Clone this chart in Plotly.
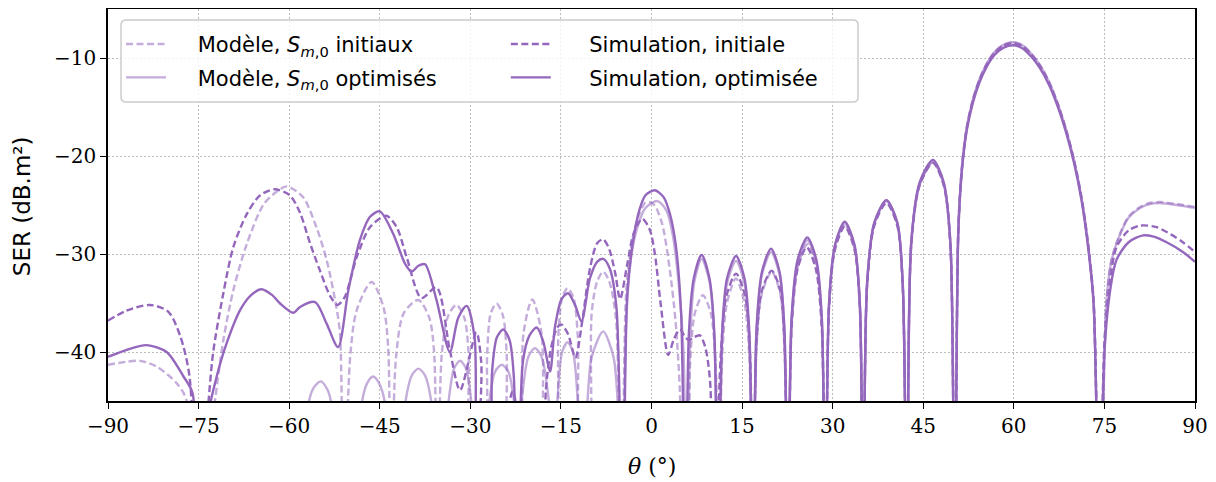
import plotly.graph_objects as go

# ---------------- data ----------------
sim_opt_theta = [-90, -87, -83.6, -80.3, -77.5, -76.0, -75.1, -73.6, -72.0, -70.35,
                 -68.1, -66.3, -64.6, -62.8, -61.5, -59.3, -58.2, -55.7, -53.8, -51.9,
                 -50.2, -48.3, -46.6, -45.0, -42.8, -40.8, -39.7, -38.6, -37.5, -35.6,
                 -33.4, -32.0, -30.6, -29.3, -28.4, -27.1, -26.4, -25.6, -24.55, -23.5,
                 -22.8, -22.2, -21.3, -20.2, -19.0, -17.9, -16.8, -16.0, -14.9, -13.8,
                 -12.6, -11.6, -10.2, -9.0, -8.0, -6.9, -5.8, -4.8, -4.0, -3.0,
                 -2.0, -1.0, 0.56, 2.0, 3.0, 4.0, 4.9, 5.6,
                 6.2, 7.0, 8.3, 9.6, 10.4, 11.05,
                 11.7, 12.5, 14.0, 15.4, 16.2, 16.8,
                 17.4, 18.3, 19.8, 21.2, 22.0, 22.6,
                 23.2, 24.2, 25.8, 27.3, 28.2, 28.8,
                 29.4, 30.4, 32.0, 33.6, 34.5, 35.05,
                 35.7, 36.9, 38.9, 40.7, 41.6, 42.3,
                 43.0, 44.4, 46.6, 48.4, 49.5, 50.2,
                 50.8, 51.4, 52.2, 53.2, 54.3, 55.5, 56.8, 58.3, 59.9, 61.4,
                 62.8, 64.3, 65.8, 67.3, 68.7, 70.0, 71.2, 72.2, 73.2, 74.2,
                 75.0, 76.0, 77.0, 79.0, 81.4, 83.0, 85.3, 88.0, 90]
sim_opt_ser = [-40.5, -39.8, -39.3, -40.0, -42.5, -44.2, -60, -47, -42.5, -39.1,
               -35.7, -34.2, -33.6, -34.2, -35.05, -36.0, -35.4, -34.9, -37.1, -39.5,
               -33.7, -28.6, -26.2, -25.65, -27.9, -31.0, -31.8, -31.2, -31.05, -34.7,
               -40.0, -36.5, -35.3, -38.5, -60, -60, -42, -38.5, -37.7, -38.8,
               -42.5, -60, -41, -38.3, -37.5, -39.0, -42.0, -37.5, -34.6, -34.0,
               -35.3, -36.9, -32.5, -30.8, -30.5, -31.5, -35.5, -60, -34, -28.5,
               -25.5, -24.0, -23.5, -24.2, -25.8, -29.0, -36, -60,
               -38, -32.5, -30.1, -32.5, -38, -60,
               -38, -32.5, -30.2, -32.5, -38, -60,
               -37.5, -31.8, -29.45, -31.8, -37.5, -60,
               -36.5, -30.6, -28.3, -30.6, -36.5, -60,
               -35, -29.0, -26.7, -29.0, -35, -60,
               -33, -26.8, -24.5, -26.8, -33, -60,
               -29, -22.7, -20.4, -22.7, -29, -60,
               -28, -21.5, -17.4, -14.6, -12.5, -10.9, -9.7, -8.95, -8.7, -9.0,
               -9.8, -11.0, -12.7, -15.0, -17.7, -20.8, -24.5, -28.8, -35, -60,
               -40, -33.5, -30.6, -28.8, -28.1, -28.2, -28.8, -29.8, -30.8]

sim_ini_theta = [-90, -87, -83.0, -80.0, -78.0, -76.5, -75.2, -73.6, -72.6, -70.9,
                 -69.25, -67.0, -64.8, -62.4, -59.9, -58.2, -56.55, -54.9, -53.2, -52.0,
                 -50.8, -48.8, -46.6, -43.9, -42.2, -40.55, -38.1, -35.6, -33.4, -31.7,
                 -29.0, -28.2, -27.9, -24.2, -23.6, -23.0, -22.4, -21.6, -18.2, -17.5,
                 -16.6, -15.6, -14.9, -13.8, -12.6, -11.5, -10.2, -9.0, -8.0, -7.0,
                 -6.0, -5.2, -4.0, -3.0, -1.55, -0.3, 0.56, 1.5, 2.77, 3.7,
                 4.7, 5.6, 6.2, 7.0, 8.0, 8.9, 9.7, 10.3,
                 11.5, 12.4, 14.0, 15.5, 16.3, 16.8,
                 17.4, 18.3, 19.9, 21.3, 22.0, 22.6,
                 23.2, 24.2, 25.7, 27.2, 28.2, 28.8,
                 29.4, 30.4, 32.0, 33.6, 34.5, 35.05,
                 35.7, 36.9, 38.9, 40.7, 41.6, 42.3,
                 43.0, 44.4, 46.6, 48.4, 49.5, 50.2,
                 50.8, 51.4, 52.2, 53.2, 54.3, 55.5, 56.8, 58.3, 59.8, 61.4,
                 62.8, 64.3, 65.8, 67.3, 68.7, 70.0, 71.2, 72.2, 73.2, 74.2,
                 75.0, 76.0, 77.0, 79.0, 80.9, 83.6, 86.0, 88.0, 90]
sim_ini_ser = [-36.8, -35.8, -35.2, -35.9, -38.45, -42.5, -60, -47, -40.1, -34.0,
               -29.3, -25.9, -24.0, -23.4, -24.0, -25.8, -28.9, -31.7, -34.3, -35.2,
               -34.4, -30.3, -27.25, -26.1, -27.25, -30.3, -34.5, -33.4, -39.8, -43.9,
               -38.0, -41, -60, -60, -45.5, -44.0, -45.5, -60, -60, -44,
               -39.5, -37.5, -37.2, -38.2, -40.6, -37, -31.5, -28.9, -28.5, -29.5,
               -32, -34.6, -31, -28, -26.4, -27.5, -30.0, -35, -40.3, -38.7,
               -37.7, -38.5, -38.8, -38.5, -38.3, -39.5, -43, -60,
               -40, -34.3, -32.0, -34.3, -40, -60,
               -39, -33.7, -31.7, -33.7, -39, -60,
               -37.5, -31.5, -29.3, -31.5, -37.5, -60,
               -35.5, -29.5, -27.2, -29.5, -35.5, -60,
               -33.3, -27.1, -24.8, -27.1, -33.3, -60,
               -29.3, -23.0, -20.7, -23.0, -29.3, -60,
               -27.7, -21.3, -17.2, -14.4, -12.3, -10.7, -9.5, -8.75, -8.5, -8.8,
               -9.6, -10.8, -12.5, -14.8, -17.5, -20.6, -24.3, -28.6, -34.8, -60,
               -39, -32.5, -29.3, -27.6, -27.1, -27.25, -28.0, -28.8, -29.8]

mod_ini_theta = [-90, -87, -84.7, -81.9, -78.6, -77.0, -75.5, -72.3, -70.9, -69.25,
                 -67.0, -64.3, -62.2, -60.4, -57.7, -55.5, -53.8, -52.4, -51.6, -51.0,
                 -49.9, -48.8, -46.35, -44.4, -43.6, -43.2,
                 -42.3, -41.0, -38.6, -36.8, -36.0, -35.5,
                 -34.7, -33.6, -32.3, -31.0, -30.3, -29.8,
                 -27.9, -27.2, -26.6, -25.65, -24.6, -24.0, -23.4,
                 -22.1, -21.2, -19.75, -18.2, -17.4,
                 -16.2, -15.4, -14.8, -13.9, -12.9, -12.2, -11.6,
                 -10.6, -9.9, -9.0, -8.0, -7.0, -5.9, -5.0,
                 -4.2, -3.3, -2.2, -1.0, -0.3, 0.6, 1.8, 3.05, 4.0, 4.7, 5.25,
                 5.8, 6.4, 7.2, 8.5, 9.8, 10.6, 11.2,
                 11.7, 12.5, 14.0, 15.4, 16.2, 16.8,
                 17.4, 18.3, 19.9, 21.3, 22.0, 22.6,
                 23.2, 24.2, 25.8, 27.3, 28.2, 28.8,
                 29.4, 30.4, 32.0, 33.6, 34.5, 35.05,
                 35.7, 36.9, 38.9, 40.7, 41.6, 42.3,
                 43.0, 44.4, 46.6, 48.4, 49.5, 50.2,
                 50.8, 51.4, 52.2, 53.2, 54.3, 55.5, 56.8, 58.3, 59.8, 61.4,
                 62.8, 64.3, 65.8, 67.3, 68.7, 70.0, 71.2, 72.2, 73.2, 74.2,
                 75.35, 76.2, 77.6, 79.0, 80.9, 82.5, 84.2, 87.0, 90]
mod_ini_ser = [-41.3, -41.0, -40.9, -41.5, -43.2, -44.9, -60, -45, -38.8, -33.7,
               -28.95, -25.0, -23.7, -23.1, -24.2, -27.25, -30.6, -34.7, -38.0, -60,
               -40.5, -35.7, -32.85, -35.4, -39.6, -60,
               -40.5, -36, -34.7, -36.5, -40, -60,
               -40, -36.2, -35.2, -36.5, -40, -60,
               -60, -40, -36, -35.05, -36.3, -40, -60,
               -60, -38.1, -34.65, -38.1, -60,
               -60, -38, -34.5, -33.5, -34.5, -38.5, -60,
               -60, -36, -32.8, -31.8, -32.8, -36.5, -60,
               -34, -29, -26.2, -24.75, -24.7, -25.1, -27.0, -31.7, -37, -44, -60,
               -60, -41, -36, -34.2, -36, -41, -60,
               -40.5, -35, -32.5, -35, -40.5, -60,
               -39.3, -34, -31.8, -34, -39.3, -60,
               -37.2, -31.3, -29.0, -31.3, -37.2, -60,
               -35.3, -29.3, -27.0, -29.3, -35.3, -60,
               -33.1, -26.9, -24.6, -26.9, -33.1, -60,
               -28.9, -22.9, -20.6, -22.9, -28.9, -60,
               -27.5, -21.2, -17.1, -14.3, -12.2, -10.6, -9.4, -8.65, -8.4, -8.7,
               -9.5, -10.7, -12.4, -14.7, -17.4, -20.5, -24.2, -28.5, -34.7, -60,
               -34.7, -30.5, -27.9, -26.2, -25.2, -24.8, -24.7, -24.9, -25.2]

mod_opt_theta = [-90, -80, -75.5, -65, -58.0, -57.3, -56.8, -56.0, -54.8, -53.7, -53.0, -52.5,
                 -48.6, -48.0, -47.1, -46.1, -45.1, -44.1, -43.5,
                 -41.4, -40.8, -39.7, -38.6, -37.5, -36.4, -35.8,
                 -34.3, -33.65, -32.7, -31.7, -30.7, -29.8, -29.2,
                 -27.5, -26.9, -25.9, -24.8, -23.7, -22.7, -22.1,
                 -21.5, -20.4, -19.3, -18.2, -17.0, -16.5,
                 -16.2, -15.6, -14.8, -13.9, -13.0, -12.2, -11.7,
                 -11.2, -10.6, -9.9, -8.0, -6.3, -5.6, -5.1,
                 -4.8, -4.2, -3.3, -2.2, -1.0, 1.0, 2.5, 3.5, 4.5, 5.3, 5.8,
                 6.4, 7.1, 8.3, 9.6, 10.4, 11.05,
                 11.7, 12.5, 14.0, 15.4, 16.2, 16.8,
                 17.4, 18.3, 19.8, 21.2, 22.0, 22.6,
                 23.2, 24.2, 25.8, 27.3, 28.2, 28.8,
                 29.4, 30.4, 32.0, 33.6, 34.5, 35.05,
                 35.7, 36.9, 38.9, 40.7, 41.6, 42.3,
                 43.0, 44.4, 46.6, 48.4, 49.5, 50.2,
                 50.8, 51.4, 52.2, 53.2, 54.3, 55.5, 56.8, 58.3, 59.8, 61.4,
                 62.8, 64.3, 65.8, 67.3, 68.7, 70.0, 71.2, 72.2, 73.2, 74.2,
                 75.35, 76.2, 77.6, 79.0, 80.9, 82.5, 84.2, 87.0, 90]
mod_opt_ser = [-50, -52, -60, -55, -52, -50, -45.3, -43.7, -43.0, -43.8, -45.3, -50,
               -50, -45.3, -43.2, -42.5, -43.2, -45.3, -50,
               -50, -45.3, -42.4, -41.7, -42.4, -45.3, -50,
               -50, -45.3, -41.7, -40.9, -41.7, -45.3, -50,
               -50, -45.3, -42, -41.3, -42, -45.3, -50,
               -45, -40.5, -39.6, -40.5, -45, -50,
               -50, -45, -40, -39.0, -40, -45, -50,
               -50, -45, -40.5, -37.9, -40.5, -45, -50,
               -60, -37, -30, -27.0, -25.3, -24.6, -25.6, -28, -33, -40, -60,
               -38.5, -32.8, -30.5, -32.8, -38.5, -60,
               -38.7, -33, -30.7, -33, -38.7, -60,
               -37.8, -32.1, -29.8, -32.1, -37.8, -60,
               -36.8, -30.9, -28.6, -30.9, -36.8, -60,
               -35.2, -29.2, -26.9, -29.2, -35.2, -60,
               -33, -26.8, -24.5, -26.8, -33, -60,
               -28.9, -22.9, -20.6, -22.9, -28.9, -60,
               -27.5, -21.2, -17.1, -14.3, -12.2, -10.6, -9.4, -8.65, -8.4, -8.7,
               -9.5, -10.7, -12.4, -14.7, -17.4, -20.5, -24.2, -28.5, -34.7, -60,
               -34.8, -30.6, -28.0, -26.3, -25.3, -24.9, -24.8, -25.0, -25.3]

x_ticks = [-90, -75, -60, -45, -30, -15, 0, 15, 30, 45, 60, 75, 90]
y_ticks = [-10, -20, -30, -40]

for a, b in [(sim_opt_theta, sim_opt_ser), (sim_ini_theta, sim_ini_ser),
             (mod_ini_theta, mod_ini_ser), (mod_opt_theta, mod_opt_ser)]:
    assert len(a) == len(b), (len(a), len(b))


def tick_label(v):
    return ("\u2212" + str(abs(v))) if v < 0 else str(v)


# ---------------- styles ----------------
DARK = "#9467bd"
LIGHT = "rgba(148,103,189,0.55)"
DASH = "7px,3.5px"
LW = 2.4
PAD1 = "\u00a0" * 4
PAD2 = "\u00a0" * 5

fig = go.Figure()
series = [
    (PAD1 + "Modèle, <i>S</i><sub><i>m</i>,0</sub> initiaux", mod_ini_theta, mod_ini_ser, LIGHT, DASH, "legend", "g1"),
    (PAD1 + "Modèle, <i>S</i><sub><i>m</i>,0</sub> optimisés", mod_opt_theta, mod_opt_ser, LIGHT, "solid", "legend", "g2"),
    (PAD2 + "Simulation, initiale", sim_ini_theta, sim_ini_ser, DARK, DASH, "legend2", "g3"),
    (PAD2 + "Simulation, optimisée", sim_opt_theta, sim_opt_ser, DARK, "solid", "legend2", "g4"),
]
for name, xs, ys, col, dash, leg, grp in series:
    fig.add_trace(go.Scatter(
        x=xs, y=ys, name=name, mode="lines", legend=leg, legendgroup=grp,
        line=dict(color=col, width=LW, dash=dash, shape="spline", smoothing=0.8),
    ))

serif = "DejaVu Serif"
sans = "DejaVu Sans"

leg_common = dict(
    y=0.962, xanchor="left", yanchor="top", orientation="v",
    itemwidth=40, bgcolor="rgba(0,0,0,0)", borderwidth=0,
    tracegroupgap=3, traceorder="grouped",
    font=dict(family=sans, size=21, color="black"),
)

# legend frame (rounded rectangle, semi-transparent white, like the reference)
bx0, bx1, by0, by1 = 0.012, 0.690, 0.763, 0.972
rx, ry = 0.0046, 0.0128
frame_path = (f"M {bx0+rx},{by0} L {bx1-rx},{by0} Q {bx1},{by0} {bx1},{by0+ry} "
              f"L {bx1},{by1-ry} Q {bx1},{by1} {bx1-rx},{by1} L {bx0+rx},{by1} "
              f"Q {bx0},{by1} {bx0},{by1-ry} L {bx0},{by0+ry} Q {bx0},{by0} {bx0+rx},{by0} Z")

grid_common = dict(showgrid=True, gridcolor="#bdbdbd", griddash="1.5px,2.5px", gridwidth=1)

# the page body adds an 8 px offset, so the figure is laid out 8 px smaller
fig.update_layout(
    width=1208, height=474,
    margin=dict(l=100, r=21, t=1, b=81, autoexpand=False),
    paper_bgcolor="white", plot_bgcolor="white",
    font=dict(family=sans, size=18, color="black"),
    showlegend=True,
    legend=dict(x=0.012, **leg_common),
    legend2=dict(x=0.366, **leg_common),
    shapes=[dict(type="path", path=frame_path, xref="paper", yref="paper",
                 fillcolor="rgba(255,255,255,0.8)", line=dict(color="#cccccc", width=1.5),
                 layer="above")],
    xaxis=dict(
        range=[-90, 90], tickmode="array", tickvals=x_ticks,
        ticktext=[tick_label(v) for v in x_ticks],
        ticks="outside", ticklen=6, tickwidth=1.3, tickcolor="black",
        showline=True, linecolor="black", linewidth=1.5, mirror=True,
        zeroline=False, automargin=False,
        tickfont=dict(family=serif, size=20), **grid_common,
    ),
    yaxis=dict(
        range=[-45, -5], tickmode="array", tickvals=y_ticks,
        ticktext=[tick_label(v) for v in y_ticks],
        ticks="outside", ticklen=6, tickwidth=1.3, tickcolor="black",
        showline=True, linecolor="black", linewidth=1.5, mirror=True,
        zeroline=False, automargin=False,
        tickfont=dict(family=serif, size=20), **grid_common,
    ),
    annotations=[
        dict(text="<i>θ</i> (°)", xref="paper", yref="paper", x=0.5, y=-0.166,
             xanchor="center", yanchor="middle", showarrow=False,
             font=dict(family=serif, size=22)),
        dict(text="SER (dB.m²)", xref="paper", yref="paper", x=-0.0791, y=0.497,
             xanchor="center", yanchor="middle", textangle=-90, showarrow=False,
             font=dict(family=sans, size=23)),
    ],
)

fig.write_html("out.html")
